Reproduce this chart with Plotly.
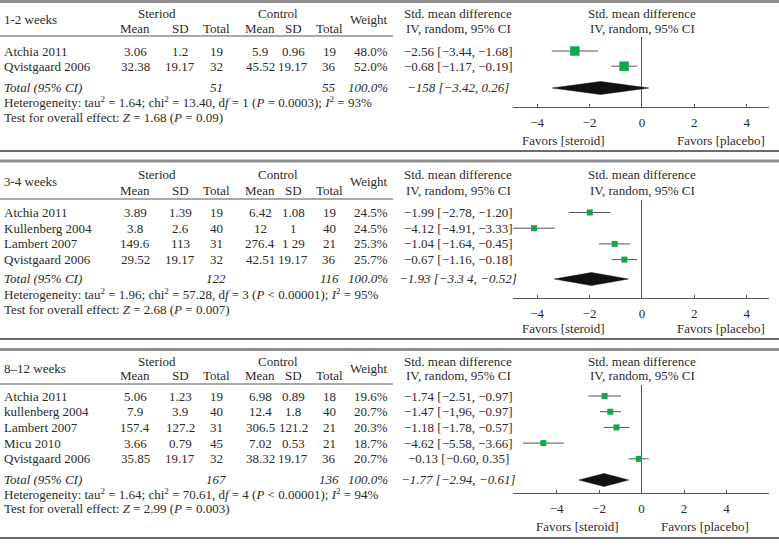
import plotly.graph_objects as go

W, H = 779, 551

# ---------------- data ----------------
# Panel 1: 1-2 weeks
p1_title = "1-2 weeks"
p1_studies = ["Atchia 2011", "Qvistgaard 2006"]
p1_ster_mean = ["3.06", "32.38"]
p1_ster_sd = ["1.2", "19.17"]
p1_ster_n = ["19", "32"]
p1_ctrl_mean = ["5.9", "45.52"]
p1_ctrl_sd = ["0.96", "19.17"]
p1_ctrl_n = ["19", "36"]
p1_weight = ["48.0%", "52.0%"]
p1_smd = [-2.56, -0.68]
p1_lo = [-3.44, -1.17]
p1_hi = [-1.68, -0.19]
p1_smd_text = ["−2.56 [−3.44, −1.68]", "−0.68 [−1.17, −0.19]"]
p1_total_n = ["51", "55"]
p1_total = [-1.58, -3.42, 0.26]
p1_total_text = "−158 [−3.42, 0.26]"
p1_het = ("Heterogeneity: tau<sup>2</sup> = 1.64; chi<sup>2</sup> = 13.40, d<i>f</i> = 1 "
          "(<i>P</i> = 0.0003); <i>I</i><sup>2</sup> = 93%")
p1_test = "Test for overall effect: <i>Z</i> = 1.68 (<i>P</i> = 0.09)"

# Panel 2: 3-4 weeks
p2_title = "3-4 weeks"
p2_studies = ["Atchia 2011", "Kullenberg 2004", "Lambert 2007", "Qvistgaard 2006"]
p2_ster_mean = ["3.89", "3.8", "149.6", "29.52"]
p2_ster_sd = ["1.39", "2.6", "113", "19.17"]
p2_ster_n = ["19", "40", "31", "32"]
p2_ctrl_mean = ["6.42", "12", "276.4", "42.51"]
p2_ctrl_sd = ["1.08", "1", "1 29", "19.17"]
p2_ctrl_n = ["19", "40", "21", "36"]
p2_weight = ["24.5%", "24.5%", "25.3%", "25.7%"]
p2_smd = [-1.99, -4.12, -1.04, -0.67]
p2_lo = [-2.78, -4.91, -1.64, -1.16]
p2_hi = [-1.20, -3.33, -0.45, -0.18]
p2_smd_text = ["−1.99 [−2.78, −1.20]", "−4.12 [−4.91, −3.33]",
               "−1.04 [−1.64, −0.45]", "−0.67 [−1.16, −0.18]"]
p2_total_n = ["122", "116"]
p2_total = [-1.93, -3.34, -0.52]
p2_total_text = "−1.93 [−3.3 4, −0.52]"
p2_het = ("Heterogeneity: tau<sup>2</sup> = 1.96; chi<sup>2</sup> = 57.28, d<i>f</i> = 3 "
          "(<i>P</i> &lt; 0.00001); <i>I</i><sup>2</sup> = 95%")
p2_test = "Test for overall effect: <i>Z</i> = 2.68 (<i>P</i> = 0.007)"

# Panel 3: 8-12 weeks
p3_title = "8–12 weeks"
p3_studies = ["Atchia 2011", "kullenberg 2004", "Lambert 2007", "Micu 2010", "Qvistgaard 2006"]
p3_ster_mean = ["5.06", "7.9", "157.4", "3.66", "35.85"]
p3_ster_sd = ["1.23", "3.9", "127.2", "0.79", "19.17"]
p3_ster_n = ["19", "40", "31", "45", "32"]
p3_ctrl_mean = ["6.98", "12.4", "306.5", "7.02", "38.32"]
p3_ctrl_sd = ["0.89", "1.8", "121.2", "0.53", "19.17"]
p3_ctrl_n = ["18", "40", "21", "21", "36"]
p3_weight = ["19.6%", "20.7%", "20.3%", "18.7%", "20.7%"]
p3_smd = [-1.74, -1.47, -1.18, -4.62, -0.13]
p3_lo = [-2.51, -1.96, -1.78, -5.58, -0.60]
p3_hi = [-0.97, -0.97, -0.57, -3.66, 0.35]
p3_smd_text = ["−1.74 [−2.51, −0.97]", "−1.47 [−1,96, −0.97]", "−1.18 [−1.78, −0.57]",
               "−4.62 [−5.58, −3.66]", "−0.13 [−0.60, 0.35]"]
p3_total_n = ["167", "136"]
p3_total = [-1.77, -2.94, -0.61]
p3_total_text = "−1.77 [−2.94, −0.61]"
p3_het = ("Heterogeneity: tau<sup>2</sup> = 1.64; chi<sup>2</sup> = 70.61, d<i>f</i> = 4 "
          "(<i>P</i> &lt; 0.00001); <i>I</i><sup>2</sup> = 94%")
p3_test = "Test for overall effect: <i>Z</i> = 2.99 (<i>P</i> = 0.003)"

tick_vals = [-4, -2, 0, 2, 4]
hdr_group = ["Steriod", "Control"]
hdr_cols = ["Mean", "SD", "Total", "Mean", "SD", "Total"]
favors = ["Favors [steroid]", "Favors [placebo]"]

# ---------------- layout constants (pixels) ----------------
FONT = "Liberation Serif"
FS = 13
TXT = "#2b2b2b"
GREEN = "#11a84b"
COL_X = [135, 180, 216, 260, 293, 329]   # data columns (centres)
GRP_X = [157, 278]
WEIGHT_R = 390
SMD_C = 458
FOREST_L, FOREST_R = 513, 769
FOREST_C = 642

panels = [
    dict(title=p1_title, studies=p1_studies,
         cols=[p1_ster_mean, p1_ster_sd, p1_ster_n, p1_ctrl_mean, p1_ctrl_sd, p1_ctrl_n],
         weight=p1_weight, smd=p1_smd, lo=p1_lo, hi=p1_hi, smd_text=p1_smd_text,
         total_n=p1_total_n, total=p1_total, total_text=p1_total_text, het=p1_het, test=p1_test,
         lay=dict(gray=1.5, hdr1=13, label=20, hdr2=28, hline=36, row0=51, dy=15.2, total=87,
                  het=102, test=117, axis=107, favors=140, bottom=151, xr=[-4.92, 4.85], msize=9.5)),
    dict(title=p2_title, studies=p2_studies,
         cols=[p2_ster_mean, p2_ster_sd, p2_ster_n, p2_ctrl_mean, p2_ctrl_sd, p2_ctrl_n],
         weight=p2_weight, smd=p2_smd, lo=p2_lo, hi=p2_hi, smd_text=p2_smd_text,
         total_n=p2_total_n, total=p2_total, total_text=p2_total_text, het=p2_het, test=p2_test,
         lay=dict(gray=161, hdr1=174, label=182, hdr2=190, hline=199, row0=212.5, dy=15.7, total=278,
                  het=294, test=309, axis=298, favors=328, bottom=339, xr=[-4.92, 4.85], msize=6)),
    dict(title=p3_title, studies=p3_studies,
         cols=[p3_ster_mean, p3_ster_sd, p3_ster_n, p3_ctrl_mean, p3_ctrl_sd, p3_ctrl_n],
         weight=p3_weight, smd=p3_smd, lo=p3_lo, hi=p3_hi, smd_text=p3_smd_text,
         total_n=p3_total_n, total=p3_total, total_text=p3_total_text, het=p3_het, test=p3_test,
         lay=dict(gray=349.5, hdr1=361, label=368, hdr2=375, hline=384, row0=396, dy=15.7, total=479,
                  het=494, test=508, axis=493, favors=526, bottom=538, xr=[-6.05, 6.0], msize=6)),
]


def px(x):
    return x / W


def py(y):
    return 1 - y / H


fig = go.Figure()
annotations = []
shapes = []


def text(x, y, s, align="center", italic=False, size=FS):
    if italic:
        s = "<i>" + s + "</i>"
    annotations.append(dict(
        x=px(x), y=py(y), xref="paper", yref="paper",
        text=s, showarrow=False, xanchor=align, yanchor="middle",
        font=dict(family=FONT, size=size, color=TXT)))


def hline(y, x0, x1, color, width):
    shapes.append(dict(type="line", xref="paper", yref="paper",
                       x0=px(x0), x1=px(x1), y0=py(y), y1=py(y),
                       line=dict(color=color, width=width)))


for k, p in enumerate(panels, start=1):
    L = p["lay"]
    n = len(p["studies"])
    rows = [L["row0"] + i * L["dy"] for i in range(n)]

    # rules
    hline(L["gray"], 0, W, "#8f8f8f", 3)
    hline(L["hline"], 0, 393, "#555555", 1)
    hline(L["bottom"], 0, W, "#3a3a3a", 1.3)

    # header
    text(2, L["label"], p["title"], align="left")
    for gx, g in zip(GRP_X, hdr_group):
        text(gx, L["hdr1"], g)
    for cx, c in zip(COL_X, hdr_cols):
        text(cx, L["hdr2"], c)
    text(WEIGHT_R, L["label"], "Weight", align="right")
    text(SMD_C, L["hdr1"], "Std. mean difference")
    text(SMD_C, L["hdr2"], "IV, random, 95% CI")
    text(FOREST_C, L["hdr1"], "Std. mean difference")
    text(FOREST_C, L["hdr2"], "IV, random, 95% CI")

    # study rows
    for i in range(n):
        y = rows[i]
        text(2, y, p["studies"][i], align="left")
        for cx, col in zip(COL_X, p["cols"]):
            text(cx, y, col[i])
        text(WEIGHT_R, y, p["weight"][i], align="right")
        text(SMD_C, y, p["smd_text"][i])

    # total row
    text(2, L["total"], "Total (95% CI)", align="left", italic=True)
    text(COL_X[2], L["total"], p["total_n"][0], italic=True)
    text(COL_X[5], L["total"], p["total_n"][1], italic=True)
    text(WEIGHT_R, L["total"], "100.0%", align="right", italic=True)
    text(SMD_C, L["total"], p["total_text"], italic=True)

    text(2, L["het"], p["het"], align="left")
    text(2, L["test"], p["test"], align="left")

    # forest plot axes
    xa = "xaxis" if k == 1 else f"xaxis{k}"
    ya = "yaxis" if k == 1 else f"yaxis{k}"
    xr_ = "x" if k == 1 else f"x{k}"
    yr_ = "y" if k == 1 else f"y{k}"

    fig.add_trace(go.Scatter(
        x=p["smd"], y=rows, mode="markers", xaxis=xr_, yaxis=yr_,
        marker=dict(symbol="square", size=L["msize"], color=GREEN, line=dict(width=0)),
        error_x=dict(type="data", symmetric=False,
                     array=[h - e for h, e in zip(p["hi"], p["smd"])],
                     arrayminus=[e - l for e, l in zip(p["smd"], p["lo"])],
                     color="#555555", thickness=1, width=0),
        hoverinfo="skip", showlegend=False))

    est, lo, hi = p["total"]
    hh = 6.5
    yt = L["total"] + 1
    fig.add_trace(go.Scatter(
        x=[lo, est, hi, est, lo], y=[yt, yt - hh, yt, yt + hh, yt],
        mode="lines", fill="toself", fillcolor="#111111",
        line=dict(color="#111111", width=0.5), xaxis=xr_, yaxis=yr_,
        hoverinfo="skip", showlegend=False))

    fig.layout[xa] = dict(
        domain=[px(FOREST_L), px(FOREST_R)], range=L["xr"], anchor=yr_,
        showline=True, linecolor="#555555", linewidth=1,
        ticks="inside", ticklen=3, tickcolor="#555555", tickvals=tick_vals,
        ticklabelstandoff=3,
        showgrid=False, zeroline=True, zerolinecolor="#555555", zerolinewidth=1,
        tickfont=dict(family=FONT, size=FS, color=TXT), fixedrange=True)
    fig.layout[ya] = dict(
        domain=[py(L["axis"]), py(L["hline"] + 1)], range=[L["axis"], L["hline"] + 1],
        anchor=xr_, visible=False, showgrid=False, zeroline=False, fixedrange=True)

    # favours labels
    for fx, ftxt in zip([-3, 3], favors):
        annotations.append(dict(x=fx, y=py(L["favors"]), xref=xr_, yref="paper", text=ftxt,
                                showarrow=False, xanchor="center", yanchor="middle",
                                font=dict(family=FONT, size=FS, color=TXT)))

fig.update_layout(
    width=W, height=H, margin=dict(l=0, r=0, t=0, b=0),
    paper_bgcolor="white", plot_bgcolor="rgba(0,0,0,0)",
    annotations=annotations, shapes=shapes, showlegend=False,
    font=dict(family=FONT, size=FS, color=TXT))

fig.write_html("out.html", config={"displayModeBar": False},
               post_script="document.body.style.margin='0px';document.body.style.overflow='hidden';")
